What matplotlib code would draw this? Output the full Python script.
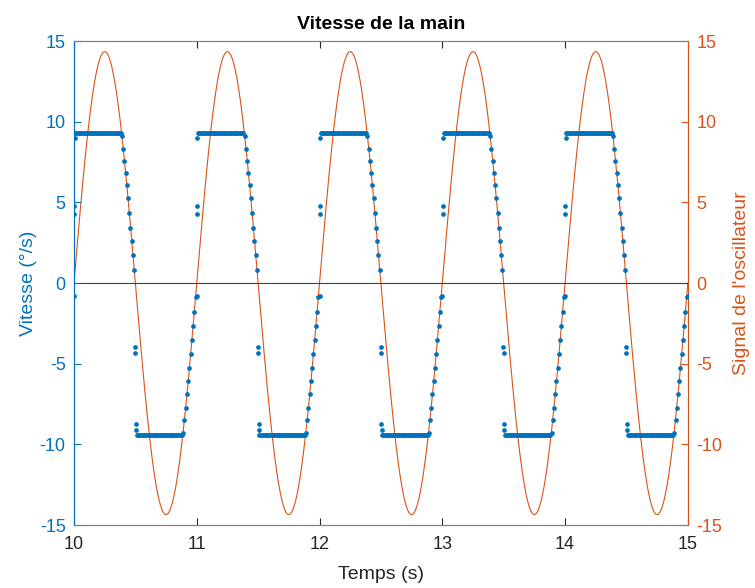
import matplotlib.pyplot as plt
import numpy as np

plt.rcParams['font.family'] = ['Liberation Sans', 'DejaVu Sans']
plt.rcParams['axes.unicode_minus'] = False

# hand velocity, one cycle (phase within each second, value in deg/s)
jump_up_phase = [0.0, 0.003, 0.003, 0.006]
jump_up_vals = [-0.8, 4.8, 4.3, 9.0]
plateau_hi = 9.32
plateau_hi_phase = np.arange(0.01, 0.385, 0.01)
fall_phase = np.arange(0.39, 0.495, 0.01)
fall_vals = [9.11, 8.33, 7.60, 6.84, 6.06, 5.25, 4.36, 3.43, 2.60, 1.72, 0.79]
jump_dn_phase = [0.497, 0.499, 0.503, 0.505]
jump_dn_vals = [-3.97, -4.36, -8.72, -9.13]
plateau_lo = -9.42
plateau_lo_phase = np.arange(0.51, 0.885, 0.01)
rise_phase = np.arange(0.89, 0.995, 0.01)
rise_vals = [-9.28, -8.51, -7.73, -6.90, -6.08, -5.25, -4.42, -3.55, -2.67, -1.78, -0.87]
cycles = [10, 11, 12, 13, 14]
t_end, v_end = 15.0, -0.8

# oscillator signal
osc_amp = 14.35
osc_freq = 1.0

phase = np.concatenate([jump_up_phase, plateau_hi_phase, fall_phase,
                        jump_dn_phase, plateau_lo_phase, rise_phase])
vals = np.concatenate([jump_up_vals, np.full(len(plateau_hi_phase), plateau_hi), fall_vals,
                       jump_dn_vals, np.full(len(plateau_lo_phase), plateau_lo), rise_vals])
t_vel = np.concatenate([c + phase for c in cycles] + [[t_end]])
v_vel = np.concatenate([vals for c in cycles] + [[v_end]])

t_osc = np.linspace(10, 15, 2001)
s_osc = osc_amp * np.sin(2 * np.pi * osc_freq * (t_osc - 10))

blue = '#0072BD'
orange = '#D95319'
grey = '#262626'

fig = plt.figure(figsize=(7.55, 5.88), dpi=100)
ax = fig.add_axes([0.098, 0.107, 0.813, 0.823])
ax2 = ax.twinx()

ax.plot(t_vel, v_vel, 'o', color=blue, markersize=3.4, markeredgewidth=0, zorder=3)
ax.axhline(0, color='#404040', linewidth=0.8, zorder=1)
ax2.plot(t_osc, s_osc, '-', color=orange, linewidth=0.8)
ax.set_zorder(ax2.get_zorder() + 1)
ax.patch.set_visible(False)

ax.set_xlim(10, 15)
ax.set_ylim(-15, 15)
ax2.set_ylim(-15, 15)
ax.set_xticks([10, 11, 12, 13, 14, 15])
ax.set_yticks([-15, -10, -5, 0, 5, 10, 15])
ax2.set_yticks([-15, -10, -5, 0, 5, 10, 15])

ax.tick_params(axis='x', direction='in', length=5, colors=grey, labelsize=13, top=True, pad=8)
ax.tick_params(axis='y', direction='in', length=5, colors=blue, labelsize=13, pad=6)
ax2.tick_params(axis='y', direction='in', length=5, colors=orange, labelsize=13, pad=6)
for a in (ax, ax2):
    a.spines['top'].set_color('#808080')
    a.spines['bottom'].set_color('#808080')
    a.spines['left'].set_color(blue)
    a.spines['right'].set_color(orange)

ax.set_title('Vitesse de la main', fontsize=14, fontweight='bold', pad=9)
ax.set_xlabel('Temps (s)', fontsize=14, color=grey, labelpad=9)
ax.set_ylabel('Vitesse (°/s)', fontsize=14, color=blue, labelpad=2)
ax2.set_ylabel("Signal de l'oscillateur", fontsize=14, color=orange, labelpad=8)

fig.savefig('out.png', dpi=100)
